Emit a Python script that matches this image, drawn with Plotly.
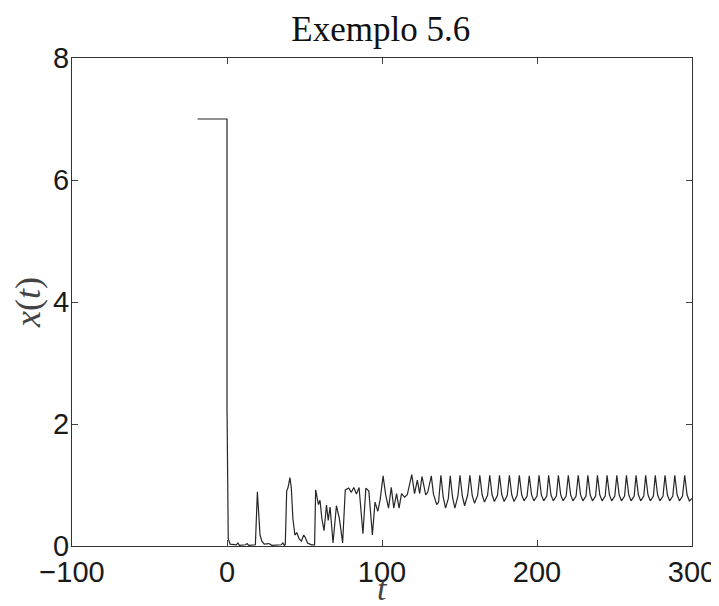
import plotly.graph_objects as go

# ---- data ----
t_initial = [-19.0, 0.0, 0.0, 0.3, 0.8, 2.0, 6.0, 7.0, 8.0, 12.0, 13.0, 14.0, 18.3,
             19.6, 20.3, 21.3, 22.5, 24.0, 27.0, 29.0, 35.0, 36.0, 37.0, 37.6]
x_initial = [7.0, 7.0, 2.3, 0.6, 0.12, 0.03, 0.02, 0.05, 0.01, 0.02, 0.04, 0.01, 0.02,
             0.89, 0.55, 0.18, 0.08, 0.03, 0.04, 0.01, 0.02, 0.05, 0.01, 0.02]

t_transient = [38.5, 39.3, 40.6, 41.5, 42.5, 43.8, 45.0, 46.5, 48.0, 49.5, 50.5, 52.0,
               54.5, 56.5, 57.2, 58.2, 59.0, 60.0, 61.2, 62.6, 64.2, 65.3, 66.5, 68.4,
               70.6, 72.5, 74.6, 76.3, 78.5, 80.2, 81.8, 83.5, 85.2, 87.7, 89.6, 91.5,
               93.8, 95.5, 97.3, 98.8, 100.7, 102.3, 104.2, 106.0, 107.6, 109.4, 111.0,
               112.6, 114.6, 116.3, 119.2, 121.0, 122.8, 124.3, 125.8, 128.2, 129.5,
               131.8, 133.2, 135.3, 136.5]
x_transient = [0.90, 0.95, 1.12, 0.95, 0.45, 0.18, 0.22, 0.12, 0.08, 0.18, 0.14, 0.05,
               0.02, 0.02, 0.92, 0.80, 0.68, 0.75, 0.45, 0.25, 0.67, 0.42, 0.64, 0.05,
               0.66, 0.45, 0.05, 0.92, 0.95, 0.88, 0.96, 0.85, 0.96, 0.20, 0.95, 0.90,
               0.18, 0.72, 0.57, 0.76, 1.15, 0.85, 0.62, 0.96, 0.62, 0.86, 0.62,
               0.86, 0.80, 0.84, 1.17, 0.86, 1.08, 0.86, 1.14, 0.84, 0.88,
               1.15, 0.85, 0.68, 0.72]

t_periodic = [138.0, 139.5, 141.0, 142.8,
              144.0, 145.5, 147.0, 149.0,
              150.3, 151.8, 153.3, 155.3,
              156.7, 158.2, 159.7, 161.7,
              163.1, 164.6, 166.1, 168.1,
              169.5, 171.0, 172.5, 174.5,
              175.8, 177.3, 178.8, 180.8,
              182.2, 183.7, 185.2, 187.2,
              188.6, 190.1, 191.6, 193.6,
              195.0, 196.5, 198.0, 200.0,
              201.3, 202.8, 204.3, 206.3,
              207.5, 209.0, 210.5, 212.5,
              213.8, 215.3, 216.8, 218.8,
              220.2, 221.7, 223.2, 225.2,
              226.6, 228.1, 229.6, 231.6,
              232.8, 234.3, 235.8, 237.8,
              239.0, 240.5, 242.0, 244.0,
              245.2, 246.7, 248.2, 250.2,
              251.5, 253.0, 254.5, 256.5,
              257.7, 259.2, 260.7, 262.7,
              263.9, 265.4, 266.9, 268.9,
              270.1, 271.6, 273.1, 275.1,
              276.3, 277.8, 279.3, 281.3,
              282.6, 284.1, 285.6, 287.6,
              288.9, 290.4, 291.9, 293.9,
              295.3, 296.8, 298.3, 300.0]
x_periodic = [1.16, 0.80, 0.62, 0.78,
              1.15, 0.80, 0.62, 0.82,
              1.16, 0.82, 0.66, 0.84,
              1.16, 0.83, 0.70, 0.83,
              1.16, 0.84, 0.72, 0.83,
              1.16, 0.84, 0.73, 0.83,
              1.16, 0.84, 0.73, 0.83,
              1.16, 0.84, 0.73, 0.83,
              1.16, 0.84, 0.74, 0.82,
              1.15, 0.84, 0.74, 0.82,
              1.16, 0.84, 0.74, 0.82,
              1.16, 0.84, 0.74, 0.82,
              1.16, 0.84, 0.74, 0.82,
              1.16, 0.84, 0.74, 0.82,
              1.16, 0.84, 0.74, 0.82,
              1.16, 0.84, 0.74, 0.82,
              1.16, 0.84, 0.74, 0.82,
              1.16, 0.84, 0.74, 0.82,
              1.16, 0.84, 0.74, 0.82,
              1.16, 0.84, 0.74, 0.82,
              1.16, 0.84, 0.74, 0.82,
              1.16, 0.84, 0.74, 0.82,
              1.16, 0.84, 0.74, 0.82,
              1.16, 0.84, 0.74, 0.82,
              1.16, 0.84, 0.74, 0.82,
              1.16, 0.84, 0.74, 0.78]

x_tick_vals = [-100, 0, 100, 200, 300]
x_tick_text = ["\u2212100", "0", "100", "200", "300"]
y_tick_vals = [0, 2, 4, 6, 8]
y_tick_text = ["0", "2", "4", "6", "8"]

title_text = "Exemplo 5.6"
x_label = "<i>t</i>"
y_label = "<i>x</i>(<i>t</i>)"

t_all = t_initial + t_transient + t_periodic
x_all = x_initial + x_transient + x_periodic

fig = go.Figure()
fig.add_trace(go.Scatter(x=t_all, y=x_all, mode="lines",
                         line=dict(color="#262626", width=1.2),
                         showlegend=False, hoverinfo="skip"))

axis_common = dict(showgrid=False, zeroline=False, showline=True, mirror="ticks",
                   ticks="inside", ticklen=6, tickwidth=1, tickcolor="#444",
                   linecolor="#333", linewidth=1.3, automargin=False,
                   tickfont=dict(family="Liberation Sans, Arial, sans-serif", size=29, color="#1a1a1a"))

# page body has an 8px margin: the figure sits at (8, 8) and is sized to end at the window edge
fig.update_layout(
    width=711, height=598,
    margin=dict(l=64, r=27, t=50, b=60),
    paper_bgcolor="white", plot_bgcolor="white",
    title=dict(text=title_text, xref="paper", x=0.498, xanchor="center",
               y=1 - 20.5 / 598, yanchor="middle",
               font=dict(family="Liberation Serif, serif", size=35, color="#111")),
    xaxis=dict(range=[-100, 300], tickvals=x_tick_vals, ticktext=x_tick_text, **axis_common),
    yaxis=dict(range=[0, 8], tickvals=y_tick_vals, ticktext=y_tick_text,
               ticklabelstandoff=-4, **axis_common),
    annotations=[
        dict(text=y_label, xref="paper", yref="paper", x=-0.071, y=0.5, showarrow=False,
             textangle=-90, xanchor="center", yanchor="middle",
             font=dict(family="Liberation Serif, serif", size=36, color="#444")),
        dict(text=x_label, xref="paper", yref="paper", x=0.5, y=-0.088, showarrow=False,
             xanchor="center", yanchor="middle",
             font=dict(family="Liberation Serif, serif", size=34, color="#444")),
    ],
)

fig.write_html("out.html")
